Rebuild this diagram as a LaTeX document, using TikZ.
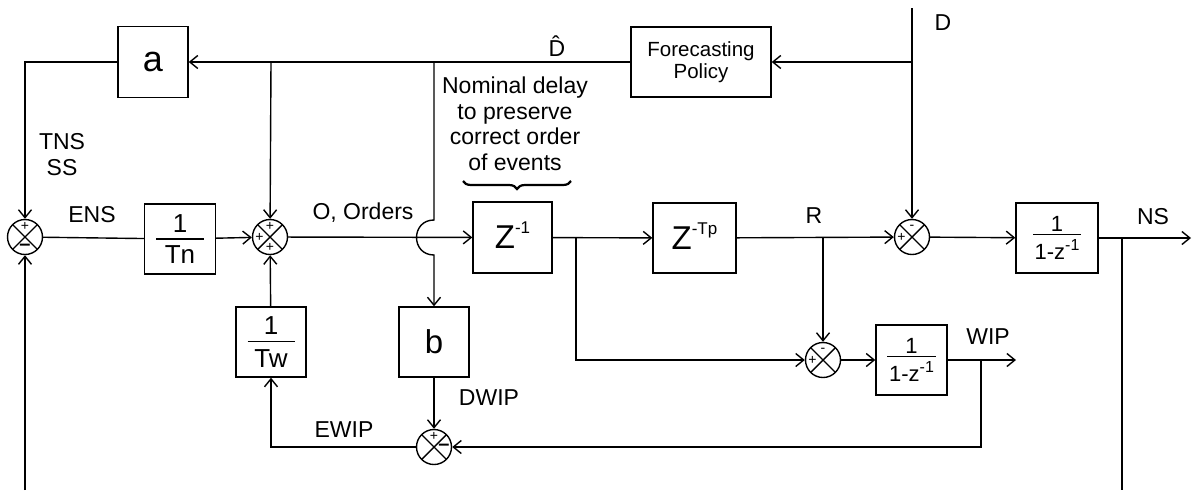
\documentclass[tikz,border=0pt]{standalone}
\usepackage{fontspec}
\setmainfont{Liberation Sans}
\usetikzlibrary{arrows.meta,decorations.pathreplacing,calc}
\newcommand\fs[1]{\fontsize{#1}{#1}\selectfont}
\newcommand\frbox[5]{\vbox{\offinterlineskip\halign{\hfil##\hfil\cr\hbox{#1}\cr\noalign{\kern#4}\rule{#3}{1.3pt}\cr\noalign{\kern#5}\hbox{#2}\cr}}}
\newcommand\sups[3]{\raisebox{#1}[0pt][0pt]{\fs{#2}#3}}
\begin{document}
\begin{tikzpicture}[x=1pt,y=-1pt,line width=1.4pt,
  blk/.style={draw,inner sep=0,minimum width=#1,minimum height=70pt},
  blk/.default=70pt,
  sum/.style={circle,draw,minimum size=35pt,inner sep=0,
    path picture={\draw[line width=1.4pt] (path picture bounding box.south west)--(path picture bounding box.north east)
      (path picture bounding box.north west)--(path picture bounding box.south east);}},
  arr/.style={-{Straight Barb[length=8pt,width=13pt,line width=1.4pt]}},
  lbl/.style={font=\fs{23},inner sep=0},
  sgn/.style={font=\fs{14},inner sep=0},
  bm/.style={font=\fs{20}\bfseries,inner sep=0}
]
\path[use as bounding box] (0,0) rectangle (1194,491);

% blocks
\node[blk=70pt,minimum height=71pt] (a) at (153,62) {\fs{36}a};
\node[blk=140pt,align=center,font=\fontsize{20.5}{22.5}\selectfont] (fp) at (701,62) {Forecasting\\Policy};
\node[sum] (s1) at (25,237) {};
\node[blk=71pt,font=\fs{26}] (tn) at (180,239) {\frbox{1}{Tn}{48pt}{6pt}{6pt}};
\node[sum] (s2) at (270,237) {};
\node[blk,font=\fs{26}] (tw) at (271,342) {\frbox{1}{Tw}{47pt}{6pt}{7pt}};
\node[blk] (b) at (434,342) {\fs{33}b};
\node[sum] (s3) at (434,447) {};
\node[blk=79pt,minimum height=71pt] (z1) at (512.5,237.5) {\fs{33}Z\sups{15pt}{17}{-1}};
\node[blk=83pt] (ztp) at (694.5,238) {\fs{33}Z\sups{15pt}{17}{-Tp}};
\node[sum] (s4) at (912,237) {};
\node[blk=82pt,font=\fs{22}] (ns) at (1057,238) {\frbox{1}{1-z\sups{9pt}{16}{-1}}{48pt}{2pt}{9pt}};
\node[sum] (s5) at (823,360) {};
\node[blk=71pt,font=\fs{22}] (wip) at (911.5,360) {\frbox{1}{1-z\sups{9pt}{16}{-1}}{49pt}{2pt}{9pt}};

% signs
\node[sgn] (p1) at ([yshift=10.5pt]s1.center) {+};
\node[bm] (m1) at ([yshift=-10pt]s1.center) {–};
\node[sgn] (p2a) at ([yshift=10.5pt]s2.center) {+};
\node[sgn] (p2b) at ([xshift=-10.5pt]s2.center) {+};
\node[sgn] (p2c) at ([yshift=-10.5pt]s2.center) {+};
\node[sgn] (p3) at ([yshift=10.5pt]s3.center) {+};
\node[bm] (m3) at ([xshift=10pt]s3.center) {–};
\node[sgn] (p4) at ([xshift=-10.5pt]s4.center) {+};
\node[sgn] (m4) at ([yshift=10pt]s4.center) {-};
\node[sgn] (p5) at ([xshift=-10.5pt]s5.center) {+};
\node[sgn] (m5) at ([yshift=10pt]s5.center) {-};

% coordinates
\coordinate (dtop) at (912,8);
\coordinate (jd) at (912,62);
\coordinate (ja) at (271,62);
\coordinate (jb) at (434,62);
\coordinate (jl) at (25,62);
\coordinate (bot1) at (25,490);
\coordinate (jz) at (576,237.5);
\coordinate (jzd) at (576,360);
\coordinate (jr) at (823,237.5);
\coordinate (jns) at (1122,238);
\coordinate (nsbot) at (1122,490);
\coordinate (nsout) at (1191,238);
\coordinate (wipout) at (1016,360);
\coordinate (jw) at (981,360);
\coordinate (jwd) at (981,447);
\coordinate (jtw) at (271,447);
\coordinate (h1) at (434,220);
\coordinate (h2) at (434,255);

% connectors
\draw[arr] (dtop) -- (s4);
\draw[arr] (jd) -- (fp.east);
\draw[arr] (fp.west) -- (a.east);
\draw[arr] (a.west) -- (jl) -- (s1);
\draw[arr] (ja) -- (s2);
\draw[arr] (jb) -- (h1) .. controls (410.7,220) and (410.7,255) .. (h2) -- (b.north);
\draw (s1) -- (tn);
\draw[arr] (tn) -- (s2);
\draw[arr] (s2) -- (z1);
\draw[arr] (z1) -- (ztp);
\draw[arr] (jz) -- (jzd) -- (s5);
\draw[arr] (ztp) -- (s4);
\draw[arr] (jr) -- (s5);
\draw[arr] (s4) -- (ns);
\draw[arr] (ns) -- (nsout);
\draw (jns) -- (nsbot);
\draw[arr] (bot1) -- (s1);
\draw[arr] (s5) -- (wip);
\draw[arr] (wip) -- (wipout);
\draw[arr] (jw) -- (jwd) -- (s3);
\draw[arr] (b) -- (s3);
\draw[arr] (s3) -- (jtw) -- (tw);
\draw[arr] (tw) -- (s2);

% labels
\node[lbl,align=center,font=\fontsize{23}{26}\selectfont] (ltns) at (62,155) {TNS\\SS};
\node[lbl] (lens) at (92,215) {ENS};
\node[lbl] (lord) at (363,213) {O, Orders};
\node[lbl] (lr) at (814,216) {R};
\node[lbl] (lns) at (1153,217) {NS};
\node[lbl] (lwip) at (988,337) {WIP};
\node[lbl] (ldwip) at (489,398) {DWIP};
\node[lbl] (lewip) at (344,430) {EWIP};
\node[lbl] (ld) at (943,23) {D};
\node[lbl] (ldh) at (557,46) {\^{D}};
\node[align=center,inner sep=0,font=\fontsize{23}{25.5}\selectfont] (nom) at (515,124) {Nominal delay\\to preserve\\correct order\\of events};
\draw[decorate,decoration={brace,amplitude=8pt},line width=2.2pt] (571,181) -- (463,181);
\end{tikzpicture}
\end{document}
